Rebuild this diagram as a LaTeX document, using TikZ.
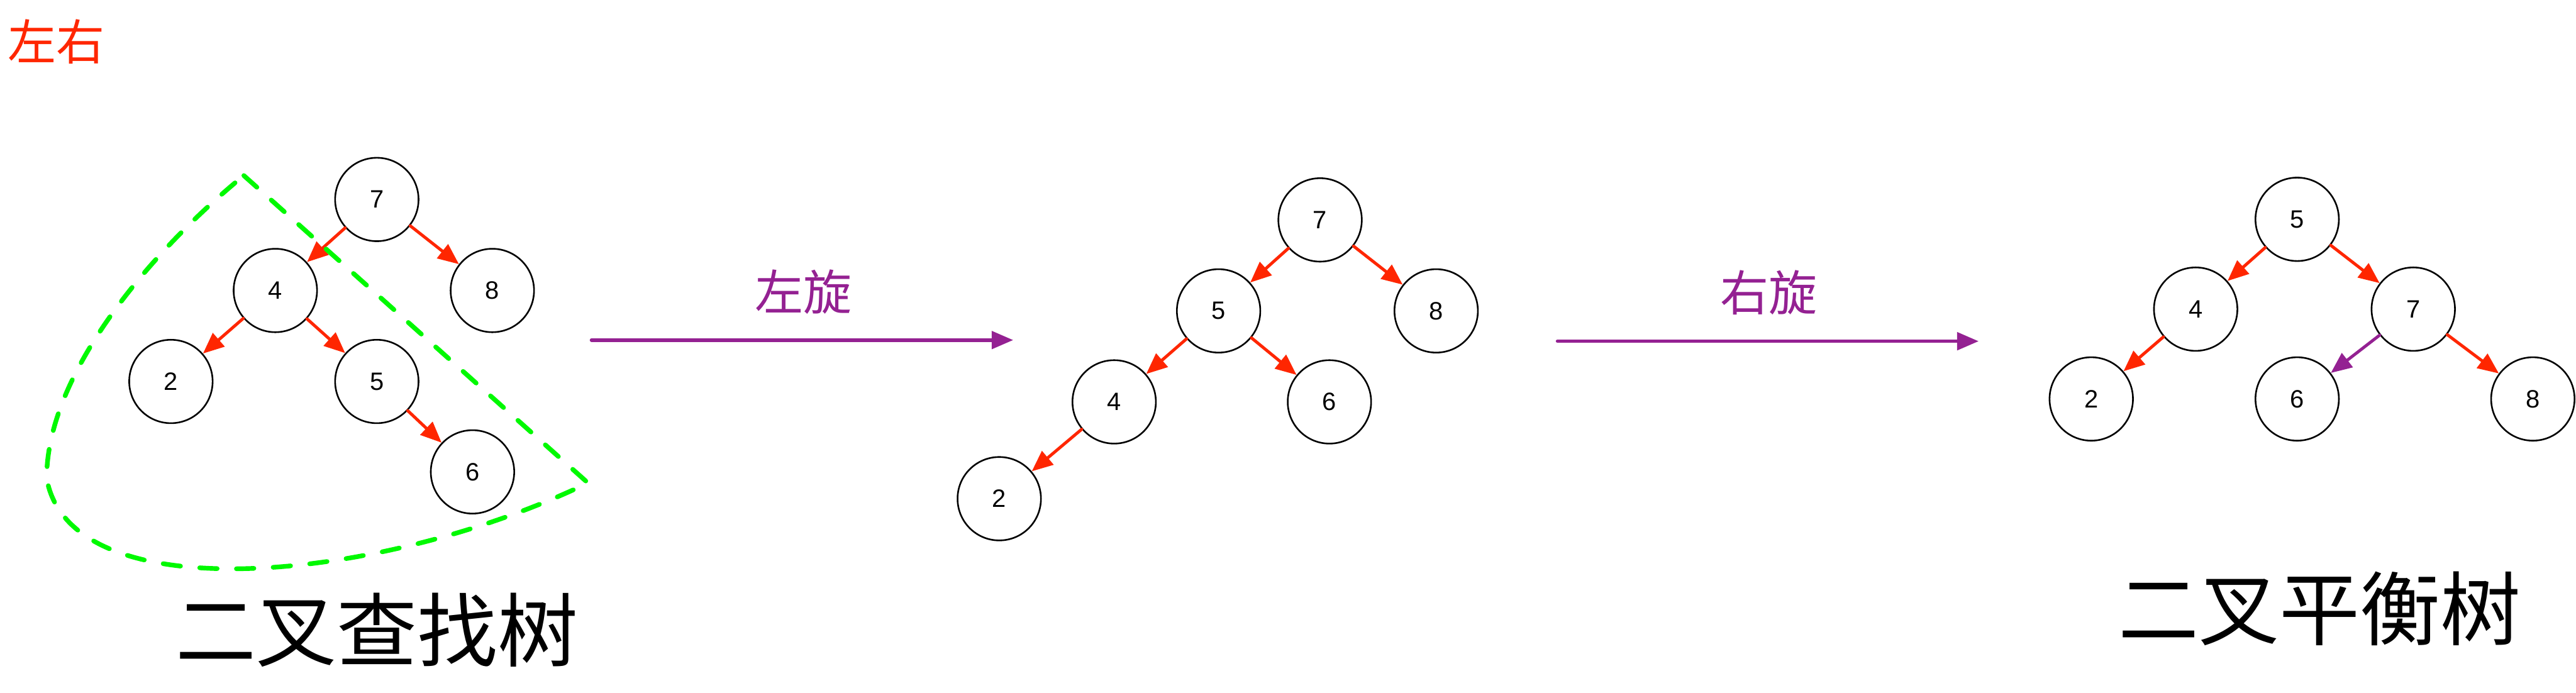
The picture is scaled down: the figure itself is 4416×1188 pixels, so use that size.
\documentclass[tikz,border=0pt]{standalone}
\usepackage{fontspec}
\setmainfont{Liberation Sans}
\newfontfamily\cjk{Noto Sans CJK SC}
\usetikzlibrary{arrows.meta}
\definecolor{myred}{HTML}{FF2600}
\definecolor{mypurple}{HTML}{942192}
\definecolor{mygreen}{HTML}{00F900}
\begin{document}
\begin{tikzpicture}[x=0.25pt,y=-0.25pt,
  tn/.style={circle,draw=black,line width=0.7pt,minimum size=35.75pt,inner sep=0pt,
    font=\fontsize{10.75}{12}\selectfont},
  redarrow/.style={draw=myred,line width=1.3pt,line cap=round,-{Triangle[length=9pt,width=7.5pt]}},
  purplearrow/.style={draw=mypurple,line width=1.3pt,line cap=round,-{Triangle[length=9pt,width=7.5pt]}},
  rotarrow/.style={draw=mypurple,line width=1.5pt,line cap=round,-{Triangle[length=9.25pt,width=7.5pt]}},
  rotlabel/.style={text=mypurple,font=\cjk\fontsize{20.75}{24}\selectfont,inner sep=0pt},
  titlelabel/.style={text=black,font=\cjk\fontsize{34.5}{40}\selectfont,inner sep=0pt},
  greendash/.style={draw=mygreen,line width=2pt,line cap=round,dash pattern=on 7.5pt off 8.25pt}
]
\useasboundingbox (0,0) rectangle (4416,1188);

% top-left label
\node[text=myred,font=\cjk\fontsize{20.75}{24}\selectfont,inner sep=0pt] (lr) at (96,72) {左右};

% left tree
\node[tn] (a7) at (646,342) {7};
\node[tn] (a4) at (472,498) {4};
\node[tn] (a8) at (844,498) {8};
\node[tn] (a2) at (293,654) {2};
\node[tn] (a5) at (646,654) {5};
\node[tn] (a6) at (810,809) {6};
\draw[redarrow] (a7) -- (a4);
\draw[redarrow] (a7) -- (a8);
\draw[redarrow] (a4) -- (a2);
\draw[redarrow] (a4) -- (a5);
\draw[redarrow] (a5) -- (a6);

% green dashed outline
\draw[greendash] (418,301) -- (1008,828)
  .. controls (650,1000) and (120,1050) .. (80,820)
  .. controls (80,640) and (260,430) .. (418,301);

\node[titlelabel] (ttl1) at (646,1080) {二叉查找树};

% left rotation arrow
\coordinate (r1s) at (1014,583);
\coordinate (r1e) at (1737,583);
\draw[rotarrow] (r1s) -- (r1e);
\node[rotlabel] (t1) at (1377,500) {左旋};

% middle tree
\node[tn] (b7) at (2263,377) {7};
\node[tn] (b5) at (2089,533) {5};
\node[tn] (b8) at (2462,533) {8};
\node[tn] (b4) at (1910,689) {4};
\node[tn] (b6) at (2279,689) {6};
\node[tn] (b2) at (1713,855) {2};
\draw[redarrow] (b7) -- (b5);
\draw[redarrow] (b7) -- (b8);
\draw[redarrow] (b5) -- (b4);
\draw[redarrow] (b5) -- (b6);
\draw[redarrow] (b4) -- (b2);

% right rotation arrow
\coordinate (r2s) at (2670,585);
\coordinate (r2e) at (3392,585);
\draw[rotarrow] (r2s) -- (r2e);
\node[rotlabel] (t2) at (3032,502) {右旋};

% right tree
\node[tn] (c5) at (3938,376) {5};
\node[tn] (c4) at (3764,530) {4};
\node[tn] (c7) at (4137,530) {7};
\node[tn] (c2) at (3585,684) {2};
\node[tn] (c6) at (3938,684) {6};
\node[tn] (c8) at (4342,684) {8};
\draw[redarrow] (c5) -- (c4);
\draw[redarrow] (c5) -- (c7);
\draw[redarrow] (c4) -- (c2);
\draw[purplearrow] (c7) -- (c6);
\draw[redarrow] (c7) -- (c8);

\node[titlelabel] (ttl2) at (3977,1043) {二叉平衡树};
\end{tikzpicture}
\end{document}
